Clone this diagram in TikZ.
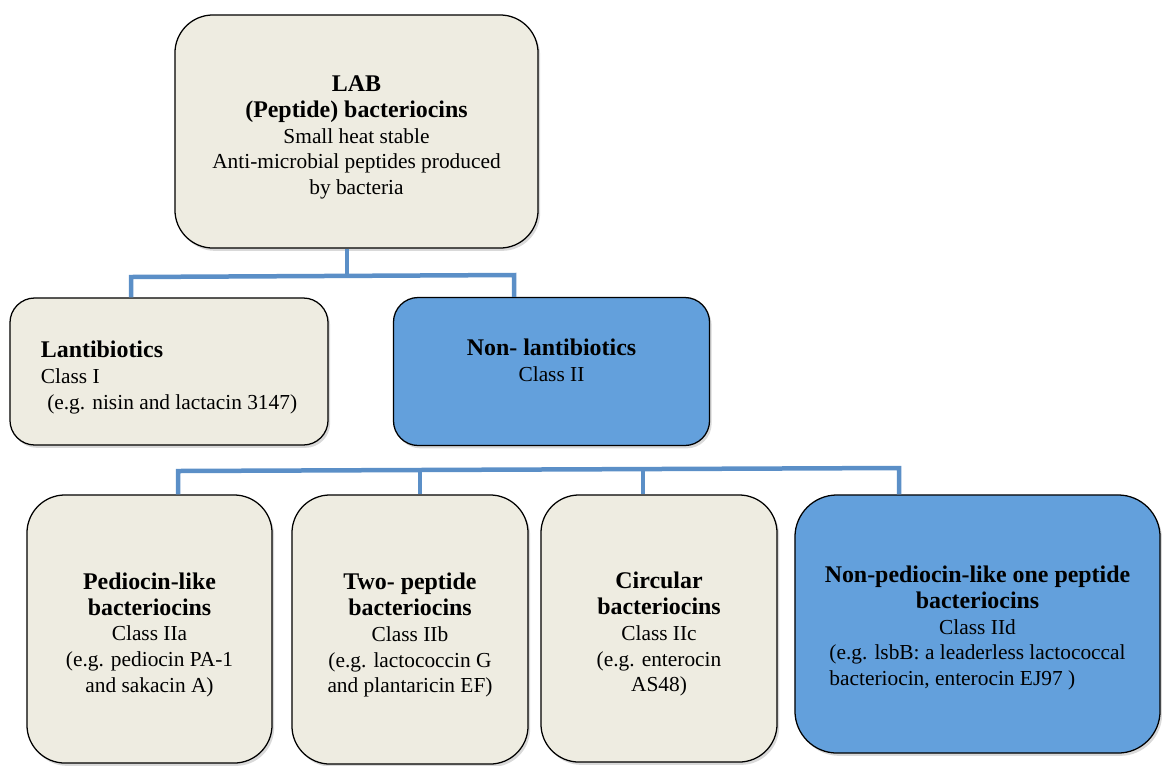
\documentclass[tikz,border=0pt]{standalone}
\usepackage{fontspec}
\setmainfont{Liberation Serif}
\usetikzlibrary{positioning, shadows}
\definecolor{boxcream}{RGB}{238,236,225}
\definecolor{boxblue}{RGB}{99,160,220}
\definecolor{linkblue}{RGB}{91,143,199}
\newcommand{\hd}[1]{{\fontsize{17}{18.3}\selectfont\bfseries #1}}
\newcommand{\lift}{\rule{0pt}{20pt}}

\begin{document}
\begin{tikzpicture}[x=0.025cm,y=-0.025cm,
  box/.style={draw=black, line width=0.9pt, fill=boxcream, rounded corners=0.95cm, align=center, inner sep=0pt,
    font={\fontsize{15.2}{18.3}\selectfont},
    drop shadow={shadow xshift=1.5pt,shadow yshift=-2pt,opacity=0.3}},
  bluebox/.style={box, fill=boxblue},
  link/.style={draw=linkblue, line width=3.2pt}]
\useasboundingbox (0,0) rectangle (1162,765);

\node[box, minimum width=9.075cm, minimum height=5.825cm] (lab) at (356.5,131.5)
  {\lift\hd{LAB}\\\hd{(Peptide) bacteriocins}\\Small heat stable\\Anti-microbial peptides produced\\by bacteria};
\node[box, rounded corners=0.62cm, minimum width=7.95cm, minimum height=3.675cm, align=left] (lanti) at (169,371.5)
  {\lift\hd{Lantibiotics}\\Class I\\\hspace*{0.3em}(e.g. nisin and lactacin 3147)};
\node[bluebox, rounded corners=0.62cm, minimum width=7.9cm, minimum height=3.7cm] (nonlanti) at (551.5,371.5)
  {\lift\hd{Non- lantibiotics}\\Class II\\\strut};

\node[box, minimum width=6.125cm, minimum height=6.7cm] (pedio) at (149.5,629)
  {\lift\hd{Pediocin-like}\\\hd{bacteriocins}\\Class IIa\\(e.g. pediocin PA-1\\and sakacin A)};
\node[box, minimum width=5.9cm, minimum height=6.725cm] (twopep) at (410,629.5)
  {\lift\hd{Two- peptide}\\\hd{bacteriocins}\\Class IIb\\(e.g. lactococcin G\\and plantaricin EF)};
\node[box, minimum width=5.9cm, minimum height=6.675cm] (circ) at (659,628.5)
  {\lift\hd{Circular}\\\hd{bacteriocins}\\Class IIc\\(e.g. enterocin\\AS48)};
\node[bluebox, rounded corners=1.05cm, minimum width=9.125cm, minimum height=6.45cm] (nonpedio) at (977.5,624)
  {\lift\hd{Non-pediocin-like one peptide}\\\hd{bacteriocins}\\Class IId\\
   \begin{tabular}[t]{@{}l@{}}(e.g. lsbB: a leaderless lactococcal\\bacteriocin, enterocin EJ97 )\end{tabular}};

\coordinate (j1) at (347,276);
\coordinate (d1) at (131,277);
\coordinate (d2) at (514,275);
\draw[link] (lab.south -| j1) -- (j1);
\draw[link] (lanti.north -| d1) -- (d1) -- (d2) -- (nonlanti.north -| d2);

\coordinate (e1) at (178,471);
\coordinate (e2) at (420,470);
\coordinate (e3) at (643,469);
\coordinate (e4) at (899,468);
\draw[link] (pedio.north -| e1) -- (e1) -- (e4) -- (nonpedio.north -| e4);
\draw[link] (twopep.north -| e2) -- (e2);
\draw[link] (circ.north -| e3) -- (e3);
\end{tikzpicture}
\end{document}
